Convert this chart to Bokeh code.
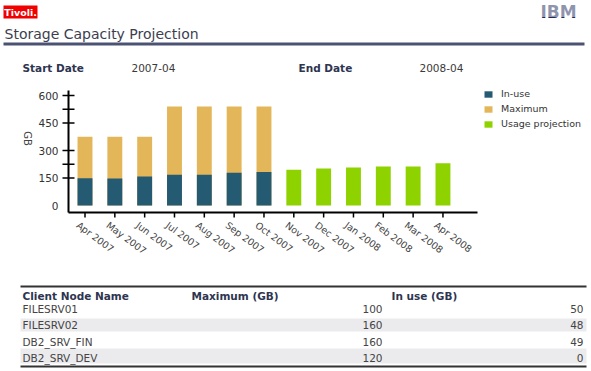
import math
from bokeh.plotting import figure
from bokeh.models import Range1d, Legend, LegendItem, ColumnDataSource
from bokeh.core.properties import value
from bokeh.embed import file_html
from bokeh.resources import INLINE

# ---------------- data ----------------
months = ["Apr 2007", "May 2007", "Jun 2007", "Jul 2007", "Aug 2007", "Sep 2007", "Oct 2007",
          "Nov 2007", "Dec 2007", "Jan 2008", "Feb 2008", "Mar 2008", "Apr 2008"]
hist_months = months[:7]
proj_months = months[7:]
in_use = [148, 147, 158, 168, 168, 179, 183]
maximum = [375, 375, 375, 540, 540, 540, 540]
projection = [195, 202, 207, 213, 213, 231]
y_major = [0, 150, 300, 450, 600]
y_minor = [150, 225, 300, 450, 525, 600]
y_title = "GB"
series_names = ["In-use", "Maximum", "Usage projection"]

nodes = ["FILESRV01", "FILESRV02", "DB2_SRV_FIN", "DB2_SRV_DEV"]
node_max = [100, 160, 160, 120]
node_in_use = [50, 48, 49, 0]
table_headers = ["Client Node Name", "Maximum (GB)", "In use (GB)"]

title = "Storage Capacity Projection"
start_date = "2007-04"
end_date = "2008-04"

# ---------------- styling / layout (page pixels) ----------------
FONT = value("DejaVu Sans")
W, H = 589, 369
PX0, PX1, PY0, PY1 = 0, W, 0, H                    # page pixel extent of the canvas
CAT0_PX, CAT_STEP_PX = 84.5, 29.83                 # page x of first month, spacing
GB0_PX, PX_PER_GB = 205.0, 27.5 / 150.0            # page y of 0 GB, scale
AX_LEFT, AX_RIGHT, AX_TOP, AX_BOTTOM = 68, 477, 90, 212
C_INUSE = "#245a72"
C_MAX = "#e4b65a"
C_PROJ = "#8ed300"
C_RULE = "#4b5272"
C_HEAD = "#2e3550"
C_TEXT = "#3a3a3a"

p = figure(width=W, height=H, x_range=Range1d(PX0, PX1), y_range=Range1d(PY1, PY0),
           output_backend="svg", toolbar_location=None, title=None,
           x_axis_type=None, y_axis_type=None,
           min_border=0, min_border_left=0, min_border_right=0,
           min_border_top=0, min_border_bottom=0)
p.outline_line_color = None
p.grid.visible = False

p.extra_x_ranges = {"cat": Range1d((PX0 - CAT0_PX) / CAT_STEP_PX, (PX1 - CAT0_PX) / CAT_STEP_PX)}
p.extra_y_ranges = {"gb": Range1d((GB0_PX - PY1) / PX_PER_GB, (GB0_PX - PY0) / PX_PER_GB)}


def txt(x, y, text, size="10px", color=C_TEXT, bold=False, align="left", baseline="middle", **kw):
    p.text(x=x, y=y, text=text, text_font=FONT, text_font_size=size, text_color=color,
           text_font_style="bold" if bold else "normal", text_align=align,
           text_baseline=baseline, **kw)


# ---------------- header ----------------
p.quad(left=[3], right=[37], top=[5], bottom=[18], fill_color="#f00000", line_color=None)
txt([20], [11.5], ["Tivoli."], size="9.5px", color="white", bold=True, align="center")
txt([558], [11], ["IBM"], size="17px", color="#1f2a5c", bold=True, align="center")
stripe_y = [5.5, 7.5, 9.5, 11.5, 13.5, 15.5]
p.segment(x0=[530] * 6, x1=[586] * 6, y0=stripe_y, y1=stripe_y, line_color="white", line_width=1)
txt([4], [33], [title], size="14px", color="#3c3e50")
p.quad(left=[3], right=[584], top=[42], bottom=[45], fill_color=C_RULE, line_color=None)
txt([22, 298], [67, 67], ["Start Date", "End Date"], size="10.5px", color=C_HEAD, bold=True)
txt([131, 419], [67, 67], [start_date, end_date], size="10.5px")

# ---------------- chart ----------------
xi_hist = [months.index(m) for m in hist_months]
xi_proj = [months.index(m) for m in proj_months]
src_h = ColumnDataSource(dict(x=xi_hist, inuse=in_use, mx=maximum))
src_p = ColumnDataSource(dict(x=xi_proj, proj=projection))
bar_kw = dict(width=0.5, bottom=0, line_color=None, x_range_name="cat", y_range_name="gb")
r_max = p.vbar(x="x", top="mx", source=src_h, fill_color=C_MAX, **bar_kw)
r_in = p.vbar(x="x", top="inuse", source=src_h, fill_color=C_INUSE, **bar_kw)
r_pr = p.vbar(x="x", top="proj", source=src_p, fill_color=C_PROJ, **bar_kw)

# axes lines
p.segment(x0=[AX_LEFT], x1=[AX_LEFT], y0=[AX_TOP], y1=[AX_BOTTOM], line_color="black", line_width=2)
p.segment(x0=[AX_LEFT], x1=[AX_RIGHT], y0=[AX_BOTTOM], y1=[AX_BOTTOM], line_color="black", line_width=2)
# y ticks + labels (value axis through the "gb" scale)
p.segment(x0=[AX_LEFT - 6] * len(y_minor), x1=[AX_LEFT + 6] * len(y_minor), y0=y_minor, y1=y_minor,
          y_range_name="gb", line_color="black", line_width=1.5)
txt([AX_LEFT - 10] * len(y_major), y_major, [str(v) for v in y_major], size="10.5px",
    color="#333333", align="right", y_range_name="gb")
txt([27], [138], [y_title], size="10px", color="#444444", align="center", angle=-math.pi / 2)
# x ticks + labels (category axis through the "cat" scale)
xt = list(range(len(months)))
p.segment(x0=xt, x1=xt, y0=[AX_BOTTOM] * len(xt), y1=[AX_BOTTOM + 5] * len(xt),
          x_range_name="cat", line_color="black", line_width=1.5)
txt(xt, [AX_BOTTOM + 7] * len(xt), months, size="9.5px", color="#444444", align="left",
    baseline="top", angle=-0.64, x_offset=-4, x_range_name="cat")

legend = Legend(items=[LegendItem(label=series_names[0], renderers=[r_in]),
                       LegendItem(label=series_names[1], renderers=[r_max]),
                       LegendItem(label=series_names[2], renderers=[r_pr])],
                location=(483 - PX0, PY1 - 131), margin=0, padding=0, spacing=0,
                glyph_width=10, glyph_height=8, label_height=15, label_standoff=8,
                label_text_font="DejaVu Sans", label_text_font_size="9.5px",
                label_text_color="#333333", border_line_color=None,
                background_fill_alpha=0)
p.add_layout(legend)

# ---------------- table ----------------
p.quad(left=[20, 20], right=[586, 586], top=[318, 348], bottom=[331, 363],
       fill_color="#ebebee", line_color=None)
p.quad(left=[20, 20], right=[586, 586], top=[285, 365], bottom=[287, 367],
       fill_color="#333333", line_color=None)
txt([22, 191, 391], [295] * 3, table_headers, size="10.5px", color=C_HEAD, bold=True)
row_y = [308, 324, 341, 357]
n = len(nodes)
txt([22] * n, row_y, nodes, size="10.5px", color="#444444")
txt([382] * n, row_y, [str(v) for v in node_max], size="10.5px", color="#444444", align="right")
txt([583] * n, row_y, [str(v) for v in node_in_use], size="10.5px", color="#444444", align="right")

open("out.html", "w").write(file_html(p, INLINE))
